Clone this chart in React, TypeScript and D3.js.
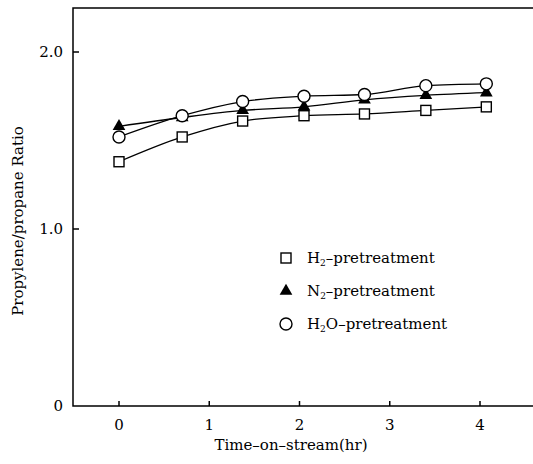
import React from 'react';
import * as d3 from 'd3';

// time-on-stream (hr) for each sample
const times = [0, 0.7, 1.37, 2.05, 2.72, 3.4, 4.07];
const h2Values = [1.38, 1.52, 1.61, 1.64, 1.65, 1.67, 1.69];
const n2Values = [1.58, 1.63, 1.67, 1.69, 1.73, 1.755, 1.77];
const h2oValues = [1.52, 1.64, 1.72, 1.75, 1.76, 1.81, 1.82];
const xTicks = [0, 1, 2, 3, 4];
const yTicks = [0, 1, 2];

const W = 533, H = 464;
const font = 'DejaVu Serif, serif';

const Marker = ({ kind, x, y }: { kind: string; x: number; y: number }) => {
  if (kind === 'square')
    return <rect x={x - 5} y={y - 5} width={10} height={10} fill="white" stroke="black" strokeWidth={1.4} />;
  if (kind === 'triangle')
    return <path d={d3.symbol(d3.symbolTriangle, 70)() || ''} transform={`translate(${x},${y})`} fill="black" />;
  return <circle cx={x} cy={y} r={6} fill="white" stroke="black" strokeWidth={1.4} />;
};

const Sub = ({ pre, sub, post }: { pre: string; sub: string; post: string }) => (
  <>
    {pre}
    <tspan fontSize={9} dy={3}>{sub}</tspan>
    <tspan dy={-3}>{post}</tspan>
  </>
);

export default function App() {
  const x = d3.scaleLinear().domain([0, 4]).range([119, 480]);
  const y = d3.scaleLinear().domain([0, 2]).range([406, 52]);
  const left = 73, top = 8, bottom = 406, right = 533;

  const line = d3.line<number>()
    .x((d, i) => x(times[i]))
    .y(d => y(d))
    .curve(d3.curveMonotoneX);

  const series = [
    { kind: 'square', values: h2Values },
    { kind: 'triangle', values: n2Values },
    { kind: 'circle', values: h2oValues },
  ];
  const legend = [
    { kind: 'square', pre: 'H', sub: '2', post: '–pretreatment' },
    { kind: 'triangle', pre: 'N', sub: '2', post: '–pretreatment' },
    { kind: 'circle', pre: 'H', sub: '2', post: 'O–pretreatment' },
  ];

  return (
    <svg width={W} height={H} style={{ position: 'absolute', left: 0, top: 0, background: 'white' }} fontFamily={font}>
      {/* frame */}
      <path d={`M${right},${top}H${left}V${bottom}H${right}`} fill="none" stroke="black" strokeWidth={1.5} />
      {xTicks.map(t => (
        <g key={t}>
          <line x1={x(t)} x2={x(t)} y1={bottom} y2={bottom - 5} stroke="black" strokeWidth={1.5} />
          <text x={x(t)} y={bottom + 24} textAnchor="middle" fontSize={15}>{t}</text>
        </g>
      ))}
      {yTicks.map(t => (
        <g key={t}>
          {t > 0 && <line x1={left} x2={left + 6} y1={y(t)} y2={y(t)} stroke="black" strokeWidth={1.5} />}
          <text x={left - 10} y={y(t) + 5} textAnchor="end" fontSize={15}>{t === 0 ? '0' : t.toFixed(1)}</text>
        </g>
      ))}
      <text x={291} y={450} textAnchor="middle" fontSize={15}>Time–on–stream(hr)</text>
      <text transform="translate(23,221) rotate(-90)" textAnchor="middle" fontSize={15}>Propylene/propane Ratio</text>

      {series.map(s => (
        <g key={s.kind}>
          <path d={line(s.values) || ''} fill="none" stroke="black" strokeWidth={1.3} />
          {s.values.map((v, i) => <Marker key={i} kind={s.kind} x={x(times[i])} y={y(v)} />)}
        </g>
      ))}

      {legend.map((l, i) => (
        <g key={l.kind}>
          <Marker kind={l.kind} x={286} y={258 + i * 33} />
          <text x={307} y={263 + i * 33} fontSize={15}>
            <Sub pre={l.pre} sub={l.sub} post={l.post} />
          </text>
        </g>
      ))}
    </svg>
  );
}
